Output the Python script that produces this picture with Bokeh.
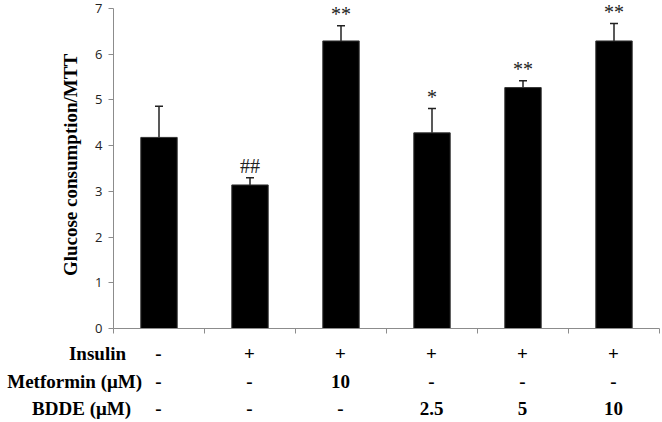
from bokeh.plotting import figure
from bokeh.layouts import column
from bokeh.models import Range1d, FixedTicker, Whisker, TeeHead, ColumnDataSource, LabelSet, Div
from bokeh.embed import file_html
from bokeh.resources import INLINE

# data
groups = ["Control", "Insulin", "Insulin+Metformin 10", "BDDE 2.5", "BDDE 5", "BDDE 10"]
means = [4.18, 3.14, 6.29, 4.28, 5.27, 6.29]
errors = [0.68, 0.16, 0.33, 0.53, 0.15, 0.38]
marks = ["", "##", "**", "*", "**", "**"]
row_names = ["Insulin", "Metformin (\u03bcM)", "BDDE (\u03bcM)"]
insulin = ["-", "+", "+", "+", "+", "+"]
metformin = ["-", "-", "10", "-", "-", "-"]
bdde = ["-", "-", "-", "2.5", "5", "10"]
y_ticks = [0, 1, 2, 3, 4, 5, 6, 7]

Y_MAX = 7
LEFT = 113
RIGHT = 3
FRAME_W = 662 - LEFT - RIGHT
PX_PER_Y = 45.7
TOP_PAD_PX = 7

n = len(groups)
px_x = n / FRAME_W
xs = [i + 0.5 for i in range(n)]
tops = [m + e for m, e in zip(means, errors)]
src = ColumnDataSource(dict(x=xs, mean=means, top=tops, mark=marks))

y_end = Y_MAX + TOP_PAD_PX / PX_PER_Y
top_h = 1 + int(round(y_end * PX_PER_Y)) + 8

p = figure(width=662, height=top_h, output_backend="svg", toolbar_location=None,
           x_range=Range1d(0, n), y_range=Range1d(0, y_end),
           min_border_left=LEFT, min_border_right=RIGHT, min_border_top=1, min_border_bottom=8)
p.outline_line_color = None
p.xgrid.visible = False
p.ygrid.visible = False

p.vbar(x="x", top="mean", width=0.4, bottom=0, source=src,
       fill_color="black", line_color="#333333", line_width=1)

wh = Whisker(base="x", lower="mean", upper="top", source=src,
             line_color="#222222", line_width=1.5,
             upper_head=TeeHead(size=8, line_color="#222222", line_width=1.5),
             lower_head=None)
p.add_layout(wh)

p.add_layout(LabelSet(x="x", y="top", text="mark", source=src, text_align="center",
                      text_baseline="bottom", y_offset=1,
                      text_font="Liberation Serif", text_font_size="20px",
                      text_color="#222222"))

# axes
for ax in (p.xaxis[0], p.yaxis[0]):
    ax.axis_line_color = "#8c8c8c"
    ax.major_tick_line_color = "#8c8c8c"
    ax.major_tick_out = 5
    ax.major_tick_in = 0
    ax.minor_tick_line_color = None

p.yaxis.bounds = (0, Y_MAX)
p.yaxis.ticker = FixedTicker(ticks=y_ticks)
p.yaxis.major_label_text_font = "Open Sans"
p.yaxis.major_label_text_font_size = "13px"
p.yaxis.major_label_text_color = "#222222"
p.yaxis.major_label_standoff = 6
p.yaxis.axis_label = "Glucose consumption/MTT"
p.yaxis.axis_label_text_font = "Liberation Serif"
p.yaxis.axis_label_text_font_style = "bold"
p.yaxis.axis_label_text_font_size = "19px"
p.yaxis.axis_label_text_color = "black"
p.yaxis.axis_label_standoff = 11

p.xaxis.ticker = FixedTicker(ticks=list(range(n + 1)))
p.xaxis.major_label_overrides = {i: "" for i in range(n + 1)}

# treatment table below the chart, aligned to the bar centres
table_h = 422 - top_h
rows = [insulin, metformin, bdde]
row_page_y = [353, 381, 408]
label_right_px = [126, 142, 131]
spans = []
for name, vals, ry, lr in zip(row_names, rows, row_page_y, label_right_px):
    yy = ry - top_h
    spans.append(
        f'<span style="position:absolute;right:{662 - lr}px;top:{yy}px;'
        f'transform:translateY(-50%);white-space:nowrap">{name}</span>')
    for xv, v in zip(xs, vals):
        cx = LEFT + xv / px_x
        spans.append(
            f'<span style="position:absolute;left:{cx:.1f}px;top:{yy}px;'
            f'transform:translate(-50%,-50%);white-space:nowrap">{v}</span>')

html = ('<div style="position:relative;width:662px;height:%dpx;'
        'font-family:\'Liberation Serif\';font-weight:bold;font-size:19px;'
        'color:black;line-height:1">%s</div>' % (table_h, "".join(spans)))
table = Div(text=html, width=662, height=table_h, margin=0)

layout = column(p, table, spacing=0)
open("out.html", "w").write(file_html(layout, INLINE))
